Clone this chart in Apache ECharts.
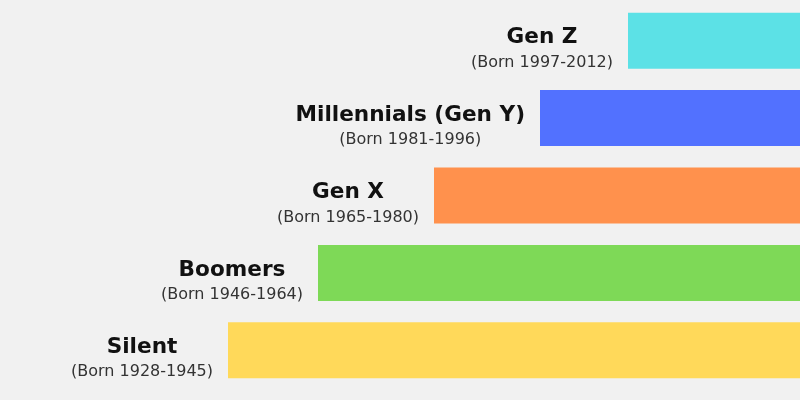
<!DOCTYPE html>
<html><head><meta charset="utf-8">
<script src="https://cdn.jsdelivr.net/npm/echarts@6/dist/echarts.min.js"></script>
<style>html,body{margin:0;padding:0;background:#f1f1f1}#c{width:800px;height:400px}</style>
</head><body><div id="c"></div>
<script>
const names = ['Gen Z', 'Millennials (Gen Y)', 'Gen X', 'Boomers', 'Silent'];
const born = ['(Born 1997-2012)', '(Born 1981-1996)', '(Born 1965-1980)', '(Born 1946-1964)', '(Born 1928-1945)'];
const lengths = [172, 260, 366, 482, 572];
const colors = ['#5ce1e6', '#5271ff', '#ff914d', '#7ed957', '#ffd95a'];

const chart = echarts.init(document.getElementById('c'));
chart.setOption({
  backgroundColor: '#f1f1f1',
  animation: false,
  grid: {left: 0, right: 0, top: 2, height: 387},
  xAxis: {type: 'value', min: 0, max: 800, inverse: true, show: false},
  yAxis: {type: 'category', data: names, inverse: true, show: false},
  series: [{
    type: 'bar',
    barWidth: 56,
    data: lengths.map((v, i) => ({value: v, itemStyle: {color: colors[i]}})),
    label: {
      show: true,
      position: 'left',
      distance: 15,
      offset: [0, 8],
      formatter: p => '{a|' + names[p.dataIndex] + '}\n{b|' + born[p.dataIndex] + '}',
      rich: {
        a: {fontFamily: 'DejaVu Sans', fontWeight: 'bold', fontSize: 21.6, color: '#111', align: 'center', lineHeight: 28},
        b: {fontFamily: 'DejaVu Sans', fontSize: 16, color: '#333', align: 'center', lineHeight: 22}
      }
    }
  }]
});
</script></body></html>
